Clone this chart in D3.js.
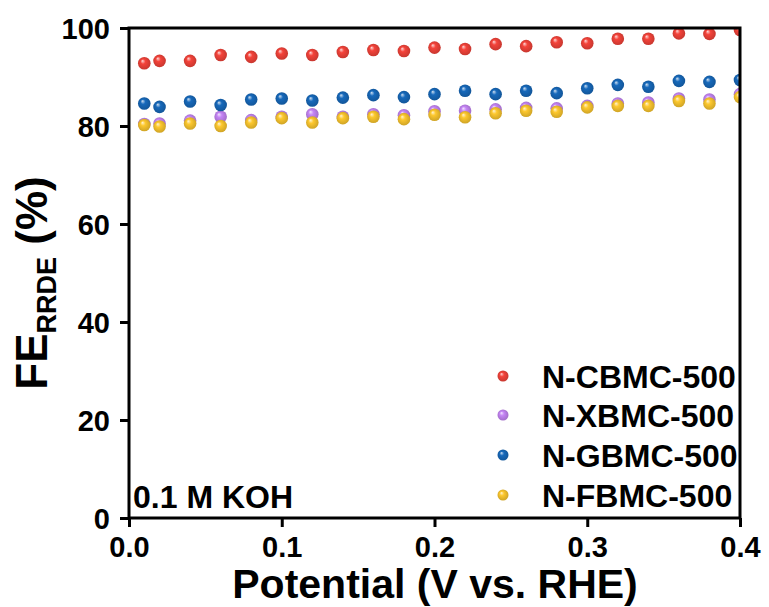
<!DOCTYPE html>
<html>
<head>
<meta charset="utf-8">
<script src="https://cdn.jsdelivr.net/npm/d3@7"></script>
<style>
  html, body { margin: 0; padding: 0; background: #fff; }
  svg { display: block; }
  text { font-family: Arial, "Liberation Sans", sans-serif; font-weight: bold; fill: #000; }
</style>
</head>
<body>
<svg id="chart" width="769" height="607"></svg>
<script>
// Potential (V vs. RHE)
const potential = [0.01, 0.02, 0.04, 0.06, 0.08, 0.10, 0.12, 0.14, 0.16, 0.18, 0.20,
                   0.22, 0.24, 0.26, 0.28, 0.30, 0.32, 0.34, 0.36, 0.38, 0.40];

// Faradaic efficiency (%) per sample
const feCBMC = [92.8, 93.3, 93.3, 94.5, 94.1, 94.8, 94.5, 95.1, 95.5, 95.3, 96.0,
                95.7, 96.7, 96.3, 97.1, 96.9, 97.8, 97.8, 98.9, 98.8, 99.6];
const feXBMC = [80.4, 80.5, 81.1, 81.9, 81.2, 81.9, 82.4, 81.9, 82.4, 82.2, 83.0,
                83.1, 83.4, 83.7, 83.6, 84.1, 84.6, 84.8, 85.6, 85.4, 86.5];
const feGBMC = [84.6, 83.9, 85.0, 84.3, 85.4, 85.6, 85.2, 85.8, 86.3, 85.9, 86.5,
                87.2, 86.5, 87.2, 86.7, 87.7, 88.4, 88.0, 89.2, 89.0, 89.4];
const feFBMC = [80.2, 79.9, 80.5, 80.0, 80.7, 81.6, 80.7, 81.6, 81.9, 81.4, 82.3,
                81.8, 82.6, 83.1, 82.9, 83.8, 84.1, 84.1, 85.1, 84.6, 85.9];

const seriesNames = ["N-CBMC-500", "N-XBMC-500", "N-GBMC-500", "N-FBMC-500"];
const seriesColors = ["#f4433a", "#c585f5", "#1769bb", "#fdc82e"];
const seriesValues = [feCBMC, feXBMC, feGBMC, feFBMC];

const xTicks = [0.0, 0.1, 0.2, 0.3, 0.4];
const yTicks = [0, 20, 40, 60, 80, 100];

const svg = d3.select("#chart");
const plotL = 129, plotR = 740, plotT = 28, plotB = 518;

const x = d3.scaleLinear().domain([0, 0.4]).range([plotL, plotR]);
const y = d3.scaleLinear().domain([0, 100]).range([plotB, plotT]);

// Sphere-like shading for each marker colour
const defs = svg.append("defs");
seriesColors.forEach((c, i) => {
  const g = defs.append("radialGradient")
    .attr("id", "ball" + i)
    .attr("cx", "0.5").attr("cy", "0.5").attr("r", "0.55")
    .attr("fx", "0.35").attr("fy", "0.3");
  g.append("stop").attr("offset", "0%").attr("stop-color", d3.interpolateRgb(c, "#ffffff")(0.8));
  g.append("stop").attr("offset", "35%").attr("stop-color", c);
  g.append("stop").attr("offset", "100%").attr("stop-color", d3.interpolateRgb(c, "#000000")(0.2));
});
defs.append("clipPath").attr("id", "plotClip")
  .append("rect").attr("x", plotL).attr("y", plotT)
  .attr("width", plotR - plotL).attr("height", plotB - plotT);

// Data points
const pts = svg.append("g").attr("clip-path", "url(#plotClip)");
seriesValues.forEach((vals, i) => {
  pts.append("g").selectAll("circle")
    .data(potential.map((p, k) => [p, vals[k]]))
    .join("circle")
    .attr("cx", d => x(d[0]))
    .attr("cy", d => y(d[1]))
    .attr("r", 6.3)
    .attr("fill", `url(#ball${i})`);
});

// Axes
const xAxis = svg.append("g").attr("transform", `translate(0,${plotB})`)
  .call(d3.axisBottom(x).tickValues(xTicks).tickFormat(d3.format(".1f")).tickSize(9).tickPadding(6));
const yAxis = svg.append("g").attr("transform", `translate(${plotL},0)`)
  .call(d3.axisLeft(y).tickValues(yTicks).tickFormat(d3.format("d")).tickSize(9).tickPadding(10));
[xAxis, yAxis].forEach(a => {
  a.select(".domain").remove();
  a.selectAll(".tick line").attr("stroke", "#000").attr("stroke-width", 3);
  a.selectAll(".tick text").style("font-size", "29px")
    .style("font-family", "Arial, 'Liberation Sans', sans-serif").style("font-weight", "bold");
});
xAxis.selectAll(".tick text").attr("dy", "0.82em");
yAxis.selectAll(".tick text").attr("dy", "0.36em");

// Frame
svg.append("rect")
  .attr("x", plotL).attr("y", plotT)
  .attr("width", plotR - plotL).attr("height", plotB - plotT)
  .attr("fill", "none").attr("stroke", "#000").attr("stroke-width", 3);

// Axis titles
svg.append("text")
  .attr("x", 435).attr("y", 598)
  .attr("text-anchor", "middle").style("font-size", "41px")
  .text("Potential (V vs. RHE)");

const yTitle = svg.append("text")
  .attr("transform", "translate(47,283) rotate(-90)")
  .attr("text-anchor", "middle").style("font-size", "44px");
yTitle.append("tspan").text("FE");
yTitle.append("tspan").attr("dy", 9).style("font-size", "27px").text("RRDE");
yTitle.append("tspan").attr("dy", -9).text(" (%)");

// Electrolyte note
svg.append("text").attr("x", 133).attr("y", 508).style("font-size", "32px").text("0.1 M KOH");

// Legend
const rowY = [376, 415, 455, 495];
const legend = svg.append("g");
seriesNames.forEach((name, i) => {
  legend.append("circle").attr("cx", 503).attr("cy", rowY[i]).attr("r", 5.5)
    .attr("fill", `url(#ball${i})`);
  legend.append("text").attr("x", 542).attr("y", rowY[i]).attr("dy", "0.36em")
    .style("font-size", "32px").text(name);
});
</script>
</body>
</html>
